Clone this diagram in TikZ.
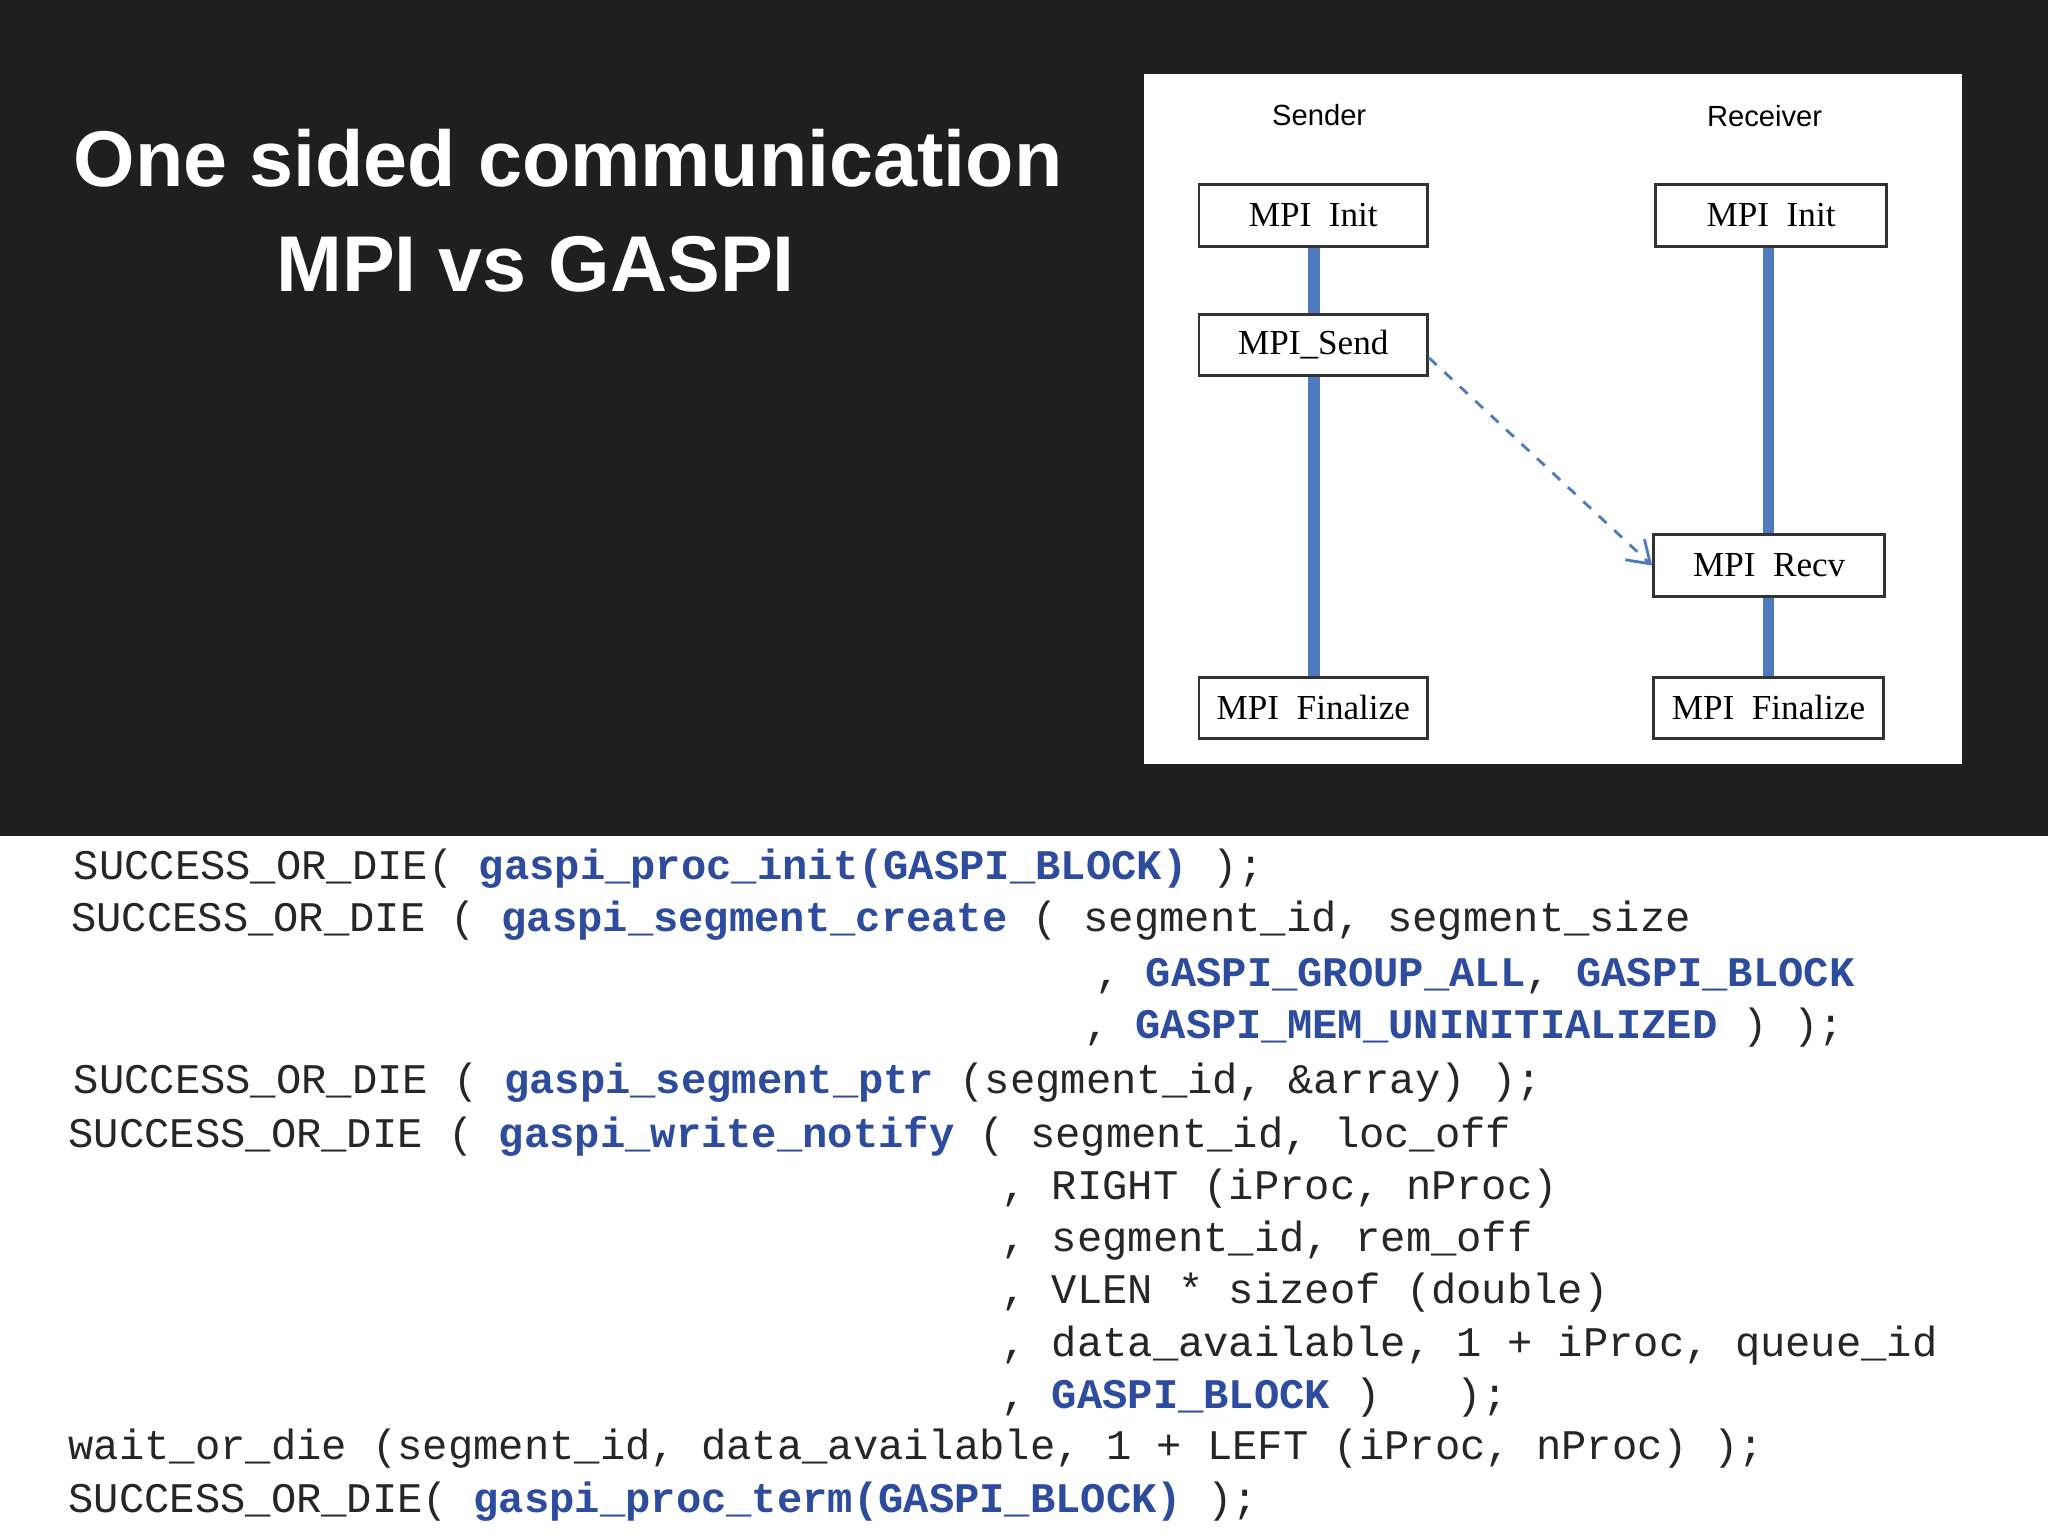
\documentclass[tikz,border=0pt]{standalone}
\usepackage{fontspec}
\setmainfont{Liberation Serif}
\newfontfamily\ttl{Liberation Sans}
\newfontfamily\cod{Liberation Mono}
\usetikzlibrary{arrows.meta}
\definecolor{bg}{HTML}{1F1F1F}
\definecolor{gb}{HTML}{2E4C9E}
\definecolor{ln}{HTML}{4F7BBE}
\newcommand{\gb}[1]{\textcolor{gb}{\bfseries #1}}
\begin{document}
\begin{tikzpicture}[x=0.01306cm,y=-0.01306cm,
  box/.style={draw=black!80,line width=0.8pt,minimum width=#1,minimum height=47*0.01306cm,inner sep=0pt,font=\fontsize{10pt}{12pt}\selectfont,fill=white},
  code/.style={anchor=west,inner sep=0pt,font=\cod\fontsize{12pt}{14pt}\selectfont,text=black!85},
  life/.style={ln,line width=3.2pt}]
\useasboundingbox (0,0) rectangle (1568,1175);
\fill[bg] (0,0) rectangle (1568,640);
\node[text=white,font=\ttl\bfseries\fontsize{22.5pt}{26pt}\selectfont] (t1) at (435,121) {One sided communication};
\node[text=white,font=\ttl\bfseries\fontsize{22.5pt}{26pt}\selectfont] (t2) at (410,202) {MPI vs GASPI};
\fill[white] (876,57) rectangle (1502,585);
\node[font=\ttl\fontsize{8.3pt}{10pt}\selectfont] (snd) at (1010,88) {Sender};
\node[font=\ttl\fontsize{8.3pt}{10pt}\selectfont] (rcv) at (1351,89) {Receiver};
\node[box=175*0.01306cm] (si) at (1005.5,165) {MPI\ \ Init};
\node[box=175*0.01306cm] (ss) at (1005.5,264) {MPI\_Send};
\node[box=175*0.01306cm] (sf) at (1005.5,542) {MPI\ \ Finalize};
\node[box=177*0.01306cm] (ri) at (1356,165) {MPI\ \ Init};
\node[box=177*0.01306cm] (rr) at (1354.5,433) {MPI\ \ Recv};
\node[box=176*0.01306cm] (rf) at (1354,542) {MPI\ \ Finalize};
\draw[life] (si.south -| 1006,0) -- (ss.north -| 1006,0);
\draw[life] (ss.south -| 1006,0) -- (sf.north -| 1006,0);
\draw[life] (ri.south -| 1354,0) -- (rr.north -| 1354,0);
\draw[life] (rr.south -| 1354,0) -- (rf.north -| 1354,0);
\draw[ln,dashed,line width=0.8pt,-{Straight Barb[length=6pt,width=8pt]}] ([yshift=-0.13cm]ss.east) -- (rr.west);
\fill[white] (0,640) rectangle (1568,1175);
\node[code] (c1) at (56,665) {SUCCESS\_OR\_DIE( \gb{gaspi\_proc\_init(GASPI\_BLOCK)} );};
\node[code] (c2) at (54,705) {SUCCESS\_OR\_DIE ( \gb{gaspi\_segment\_create} ( segment\_id, segment\_size};
\node[code] (c3) at (838,747) {, \gb{GASPI\_GROUP\_ALL}, \gb{GASPI\_BLOCK}};
\node[code] (c4) at (830,787) {, \gb{GASPI\_MEM\_UNINITIALIZED} ) );};
\node[code] (c5) at (56,829) {SUCCESS\_OR\_DIE ( \gb{gaspi\_segment\_ptr} (segment\_id, \&array) );};
\node[code] (c6) at (52,870) {SUCCESS\_OR\_DIE ( \gb{gaspi\_write\_notify} ( segment\_id, loc\_off};
\node[code] (c7) at (766,910) {, RIGHT (iProc, nProc)};
\node[code] (c8) at (766,950) {, segment\_id, rem\_off};
\node[code] (c9) at (766,990) {, VLEN * sizeof (double)};
\node[code] (c10) at (766,1030) {, data\_available, 1 + iProc, queue\_id};
\node[code] (c11) at (766,1070) {, \gb{GASPI\_BLOCK} )\ \ \ );};
\node[code] (c12) at (52,1109) {wait\_or\_die (segment\_id, data\_available, 1 + LEFT (iProc, nProc) );};
\node[code] (c13) at (52,1150) {SUCCESS\_OR\_DIE( \gb{gaspi\_proc\_term(GASPI\_BLOCK)} );};
\end{tikzpicture}
\end{document}
